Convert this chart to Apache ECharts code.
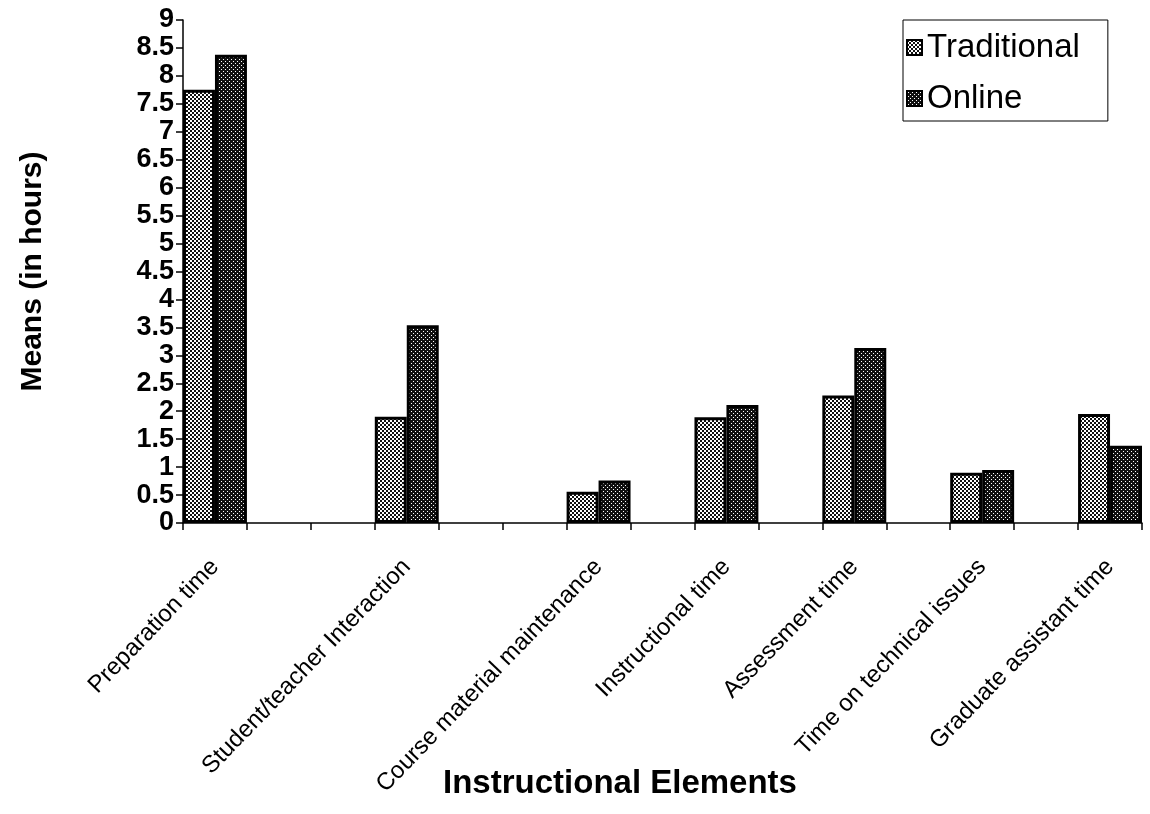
<!DOCTYPE html>
<html>
<head>
<meta charset="utf-8">
<script src="https://cdn.jsdelivr.net/npm/echarts@6/dist/echarts.min.js"></script>
<style>
  html, body { margin: 0; padding: 0; background: #fff; }
  #chart { width: 1150px; height: 814px; }
</style>
</head>
<body>
<div id="chart"></div>
<script>
  // data
  const categories = ['Preparation time', 'Student/teacher Interaction', 'Course material maintenance',
    'Instructional time', 'Assessment time', 'Time on technical issues', 'Graduate assistant time'];
  const traditional = [7.75, 1.9, 0.56, 1.89, 2.28, 0.9, 1.95];
  const online = [8.38, 3.54, 0.76, 2.11, 3.13, 0.95, 1.38];
  const yTicks = [0, 9, 0.5]; // min, max, step

  // the axis in the picture has empty slots between some groups
  const slotIndex = [0, 3, 6, 8, 10, 12, 14];
  const slotCount = 15;

  let labels = [], tradData = [], onlineData = [];
  for (let i = 0; i < slotCount; i++) {
    labels.push('');
    tradData.push('-');
    onlineData.push('-');
  }
  for (let i = 0; i < categories.length; i++) {
    labels[slotIndex[i]] = categories[i];
    tradData[slotIndex[i]] = traditional[i];
    onlineData[slotIndex[i]] = online[i];
  }

  function pattern(bg, fg, cells) {
    let c = document.createElement('canvas');
    c.width = 4; c.height = 4;
    let g = c.getContext('2d');
    g.fillStyle = bg;
    g.fillRect(0, 0, 4, 4);
    g.fillStyle = fg;
    cells.forEach(p => g.fillRect(p[0], p[1], p[2], p[2]));
    return { image: c, repeat: 'repeat' };
  }
  const lightFill = pattern('#ffffff', '#111111', [[0, 0, 2], [2, 2, 2]]);
  const darkFill = pattern('#111111', '#ffffff', [[1, 1, 1], [3, 3, 1]]);

  const font = 'Arial, "Liberation Sans", sans-serif';
  let myChart = echarts.init(document.getElementById('chart'));
  let option = {
    backgroundColor: '#fff',
    animation: false,
    textStyle: { fontFamily: font, color: '#000' },
    title: {
      text: 'Instructional Elements',
      left: 615,
      top: 762,
      textAlign: 'center',
      textStyle: { fontFamily: font, fontSize: 33, fontWeight: 'bold', color: '#000' }
    },
    legend: {
      orient: 'vertical',
      left: 903,
      top: 20,
      padding: [11, 28, 6, 3],
      itemGap: 18,
      itemWidth: 15,
      itemHeight: 15,
      icon: 'rect',
      borderColor: '#000',
      borderWidth: 1,
      textStyle: { fontFamily: font, fontSize: 33, color: '#000' },
      data: ['Traditional', 'Online']
    },
    grid: { left: 183, right: 8, top: 20, bottom: 291, containLabel: false, outerBoundsMode: 'none' },
    xAxis: {
      type: 'category',
      data: labels,
      boundaryGap: true,
      axisLine: { lineStyle: { color: '#000', width: 1.5 } },
      axisTick: { show: true, interval: 0, length: 7, lineStyle: { color: '#000', width: 1.5 } },
      axisLabel: {
        interval: 0,
        rotate: 46,
        margin: 40,
        fontFamily: font,
        fontSize: 24,
        color: '#000'
      }
    },
    yAxis: {
      type: 'value',
      min: yTicks[0],
      max: yTicks[1],
      interval: yTicks[2],
      name: 'Means (in hours)',
      nameLocation: 'middle',
      nameGap: 135,
      nameTextStyle: { fontFamily: font, fontSize: 30, fontWeight: 'bold', color: '#000' },
      splitLine: { show: false },
      axisLine: { show: true, lineStyle: { color: '#000', width: 1.5 } },
      axisTick: { show: true, length: 7, lineStyle: { color: '#000', width: 1.5 } },
      axisLabel: {
        margin: 9,
        fontFamily: font,
        fontSize: 27,
        fontWeight: 'bold',
        color: '#000',
        lineHeight: 27
      }
    },
    series: [
      {
        name: 'Traditional',
        type: 'bar',
        data: tradData,
        barGap: '0%',
        barCategoryGap: '0%',
        itemStyle: { color: lightFill, borderColor: '#000', borderWidth: 3 }
      },
      {
        name: 'Online',
        type: 'bar',
        data: onlineData,
        itemStyle: { color: darkFill, borderColor: '#000', borderWidth: 3 }
      }
    ]
  };
  myChart.setOption(option);
</script>
</body>
</html>
